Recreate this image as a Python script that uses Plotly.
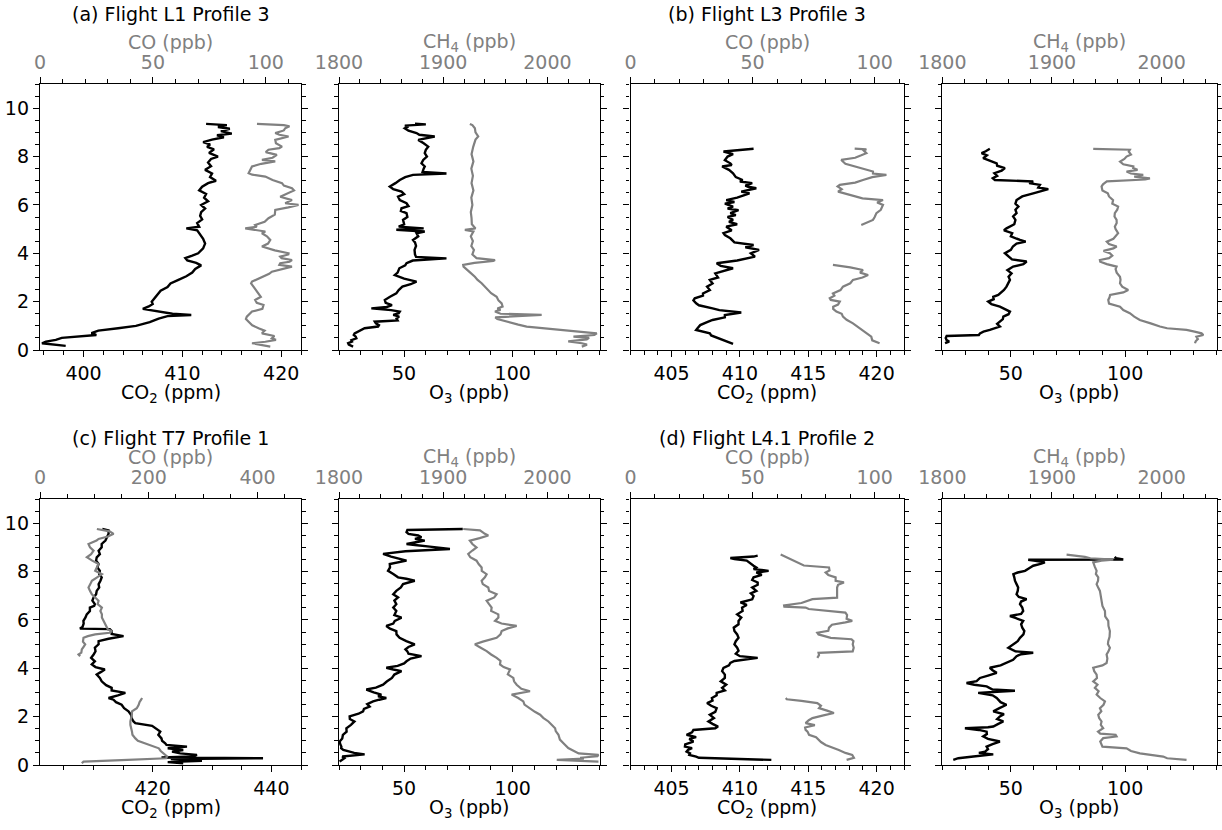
import plotly.graph_objects as go

FONT = "DejaVu Sans"
GRAY = "#808080"
FS = 19

# ---------------- data: (altitude [km], value) readings ----------------
# (a) Flight L1 Profile 3
a_co2 = [(0.17, 398.2), (0.22, 397.0), (0.28, 395.8), (0.35, 396.2), (0.42, 397.2), (0.5, 397.8), (0.55, 399.0),
         (0.62, 401.3), (0.7, 400.8), (0.8, 401.5), (0.9, 403.5), (1.0, 405.3), (1.15, 406.7), (1.3, 407.6),
         (1.4, 408.5), (1.45, 410.9), (1.5, 409.0), (1.6, 407.5), (1.7, 406.0), (1.8, 406.6), (1.9, 407.0),
         (2.0, 406.9), (2.15, 407.2), (2.3, 407.5), (2.45, 407.8), (2.6, 408.5), (2.75, 408.8), (2.9, 409.6),
         (3.05, 410.4), (3.2, 411.0), (3.35, 411.3), (3.5, 411.9), (3.6, 411.4), (3.7, 410.5), (3.8, 410.3),
         (3.9, 411.0), (4.0, 411.6), (4.2, 412.1), (4.4, 412.3), (4.6, 412.1), (4.8, 411.8), (4.95, 411.5),
         (5.03, 410.4), (5.1, 411.7), (5.25, 411.5), (5.4, 412.0), (5.55, 411.8), (5.7, 411.9), (5.85, 412.3),
         (6.0, 411.9), (6.15, 412.6), (6.3, 412.2), (6.45, 412.4), (6.6, 411.7), (6.75, 412.0), (6.9, 412.6),
         (7.0, 413.4), (7.15, 412.8), (7.3, 413.0), (7.45, 412.3), (7.6, 412.9), (7.75, 412.6), (7.9, 412.9),
         (8.0, 413.6), (8.15, 412.7), (8.3, 413.2), (8.4, 412.5), (8.5, 412.8), (8.6, 412.1), (8.7, 413.0),
         (8.8, 414.2), (8.88, 413.5), (8.95, 415.0), (9.05, 413.9), (9.15, 414.8), (9.22, 413.6), (9.3, 414.5),
         (9.35, 412.4)]
a_co = [(0.14, 102.0), (0.22, 97.5), (0.28, 93.9), (0.34, 99.8), (0.42, 104.5), (0.48, 102.7), (0.58, 103.8),
        (0.69, 98.3), (0.8, 99.5), (0.9, 96.8), (1.02, 94.0), (1.17, 92.4), (1.28, 91.2), (1.38, 91.6),
        (1.5, 92.8), (1.59, 93.9), (1.7, 98.5), (1.86, 99.0), (1.95, 96.0), (2.07, 95.3), (2.2, 97.8),
        (2.34, 96.8), (2.5, 95.5), (2.62, 94.6), (2.75, 93.5), (2.83, 93.9), (2.95, 97.0), (3.03, 98.3),
        (3.15, 101.5), (3.24, 102.7), (3.35, 108.0), (3.45, 111.6), (3.52, 106.0), (3.59, 106.4), (3.65, 110.5),
        (3.72, 111.6), (3.8, 107.0), (3.86, 106.4), (3.95, 110.0), (4.0, 110.1), (4.12, 104.0), (4.28, 98.3),
        (4.4, 101.0), (4.55, 102.0), (4.7, 100.5), (4.83, 98.3), (4.9, 99.8), (5.03, 90.9), (5.1, 96.0),
        (5.17, 95.3), (5.3, 99.5), (5.45, 101.2), (5.6, 104.0), (5.79, 104.2), (5.9, 110.0), (6.0, 114.5),
        (6.07, 108.6), (6.2, 111.6), (6.34, 106.4), (6.48, 110.1), (6.6, 112.5), (6.69, 111.6), (6.8, 108.0),
        (6.9, 107.2), (7.03, 103.0), (7.17, 99.8), (7.25, 94.0), (7.31, 92.4), (7.45, 93.0), (7.59, 93.9),
        (7.7, 98.0), (7.8, 104.2), (7.86, 98.3), (7.95, 103.0), (8.07, 104.9), (8.18, 100.0), (8.28, 101.2),
        (8.35, 106.0), (8.41, 107.2), (8.55, 104.5), (8.69, 104.2), (8.83, 110.1), (8.9, 106.0), (8.97, 104.2),
        (9.08, 108.0), (9.17, 108.6), (9.25, 110.5), (9.3, 108.0), (9.35, 96.1)]
a_o3 = [(0.14, 26.5), (0.22, 24.5), (0.28, 24.2), (0.35, 26.0), (0.41, 25.7), (0.48, 28.0), (0.55, 27.7),
        (0.62, 26.8), (0.69, 27.2), (0.8, 30.0), (0.9, 31.8), (0.97, 38.0), (1.03, 38.4), (1.1, 37.0),
        (1.17, 36.5), (1.22, 47.0), (1.3, 46.5), (1.38, 47.7), (1.45, 45.0), (1.52, 47.5), (1.59, 48.0),
        (1.65, 44.0), (1.72, 34.9), (1.78, 42.0), (1.86, 44.4), (1.95, 41.5), (2.07, 41.1), (2.2, 43.5),
        (2.34, 46.4), (2.48, 47.5), (2.62, 49.2), (2.72, 53.0), (2.83, 55.7), (2.95, 50.0), (3.1, 45.7),
        (3.2, 47.0), (3.38, 47.8), (3.5, 50.5), (3.59, 51.1), (3.7, 54.0), (3.79, 69.5), (3.85, 55.5),
        (3.95, 55.0), (4.14, 54.8), (4.3, 55.5), (4.45, 55.0), (4.55, 54.1), (4.7, 56.5), (4.83, 55.7),
        (4.9, 59.5), (4.97, 46.4), (5.03, 59.0), (5.1, 47.5), (5.2, 50.0), (5.38, 49.5), (5.5, 51.5),
        (5.66, 51.1), (5.75, 48.5), (5.86, 48.8), (5.95, 52.0), (6.07, 51.1), (6.2, 48.0), (6.34, 47.2),
        (6.45, 50.0), (6.55, 48.8), (6.65, 45.0), (6.76, 43.4), (6.9, 46.0), (7.03, 48.0), (7.15, 50.5),
        (7.24, 54.1), (7.3, 69.5), (7.36, 58.5), (7.5, 59.0), (7.59, 59.5), (7.72, 58.0), (7.86, 58.8),
        (8.0, 60.5), (8.14, 59.5), (8.28, 60.0), (8.41, 61.1), (8.55, 59.0), (8.69, 56.5), (8.83, 64.1),
        (8.9, 57.0), (8.97, 55.7), (9.07, 52.0), (9.17, 50.3), (9.25, 52.0), (9.28, 50.3), (9.33, 60.0),
        (9.36, 55.0)]
a_ch4 = [(0.14, 2033.0), (0.22, 2038.0), (0.28, 2033.0), (0.36, 2020.0), (0.44, 2037.8), (0.5, 2040.0),
         (0.55, 2025.0), (0.62, 2045.0), (0.69, 2047.4), (0.76, 2030.0), (0.83, 2012.2), (0.9, 1995.0),
         (0.97, 1980.1), (1.05, 1972.0), (1.17, 1960.9), (1.28, 1952.0), (1.35, 1950.0), (1.42, 1985.0),
         (1.45, 1994.5), (1.5, 1955.0), (1.59, 1949.7), (1.66, 1955.0), (1.72, 1952.0), (1.8, 1957.0),
         (1.93, 1956.1), (2.05, 1953.0), (2.2, 1951.3), (2.35, 1946.0), (2.48, 1943.3), (2.6, 1941.0),
         (2.76, 1936.9), (2.9, 1933.0), (3.03, 1930.4), (3.2, 1926.0), (3.35, 1922.0), (3.45, 1919.5),
         (3.52, 1919.2), (3.6, 1930.0), (3.68, 1948.0), (3.72, 1949.7), (3.8, 1932.0), (3.95, 1928.0),
         (4.14, 1929.5), (4.3, 1927.0), (4.5, 1928.5), (4.7, 1926.5), (4.9, 1929.0), (4.97, 1920.8),
         (5.03, 1931.0), (5.2, 1927.5), (5.45, 1927.2), (5.7, 1926.5), (6.0, 1928.0), (6.3, 1927.0),
         (6.6, 1929.0), (6.9, 1927.2), (7.2, 1928.5), (7.5, 1927.0), (7.8, 1929.0), (8.1, 1927.2),
         (8.4, 1928.8), (8.7, 1931.0), (8.83, 1933.6), (9.0, 1931.0), (9.17, 1930.4), (9.3, 1928.0),
         (9.35, 1925.6)]

# (b) Flight L3 Profile 3
b_co2 = [(0.25, 409.5), (0.35, 409.0), (0.48, 408.5), (0.6, 407.9), (0.69, 407.8), (0.83, 406.8), (0.9, 406.9),
         (1.03, 407.1), (1.15, 407.6), (1.24, 408.0), (1.35, 408.9), (1.45, 408.9), (1.55, 410.1), (1.59, 409.5),
         (1.65, 408.5), (1.72, 408.0), (1.85, 407.0), (1.93, 406.8), (2.05, 406.6), (2.14, 406.7), (2.25, 407.3),
         (2.34, 407.3), (2.48, 407.8), (2.62, 407.6), (2.75, 408.0), (2.9, 407.8), (3.0, 408.4), (3.17, 408.2),
         (3.3, 409.0), (3.38, 409.5), (3.48, 408.6), (3.59, 408.3), (3.7, 409.8), (3.86, 411.1), (4.0, 410.8),
         (4.14, 411.4), (4.25, 410.4), (4.34, 411.0), (4.45, 409.6), (4.62, 409.3), (4.75, 408.9), (4.83, 408.8),
         (4.95, 409.4), (5.1, 409.0), (5.2, 409.8), (5.3, 409.2), (5.38, 409.5), (5.5, 409.1), (5.58, 409.7),
         (5.66, 409.3), (5.78, 409.9), (5.85, 409.1), (5.93, 409.5), (6.05, 408.9), (6.12, 409.6), (6.2, 409.0),
         (6.3, 409.8), (6.4, 410.3), (6.48, 410.7), (6.55, 410.1), (6.6, 410.5), (6.69, 411.2), (6.75, 410.6),
         (6.8, 410.4), (6.9, 410.9), (6.97, 410.0), (7.03, 410.2), (7.15, 409.7), (7.31, 409.5), (7.45, 409.2),
         (7.59, 408.7), (7.65, 409.4), (7.72, 409.3), (7.85, 408.9), (8.0, 409.1), (8.1, 409.5), (8.21, 408.8),
         (8.32, 411.0)]
b_co_upper = [(5.17, 94.5), (5.28, 97.0), (5.38, 99.3), (5.5, 100.0), (5.66, 100.7), (5.8, 102.5), (6.0, 103.4),
              (6.1, 101.0), (6.2, 103.4), (6.27, 95.0), (6.34, 92.5), (6.45, 88.0), (6.55, 85.0), (6.65, 86.5),
              (6.76, 84.8), (6.83, 85.7), (6.92, 92.0), (7.03, 95.2), (7.15, 99.0), (7.24, 104.8), (7.3, 99.3),
              (7.38, 99.3), (7.48, 96.0), (7.59, 92.5), (7.7, 88.0), (7.86, 86.3), (7.95, 92.0), (8.05, 94.5),
              (8.14, 96.6), (8.25, 95.5), (8.3, 96.6), (8.33, 91.8)]
b_co_lower = [(0.28, 102.0), (0.4, 99.0), (0.55, 98.6), (0.7, 96.5), (0.83, 95.2), (0.95, 93.0), (1.1, 91.1),
              (1.25, 88.5), (1.38, 87.0), (1.5, 86.5), (1.59, 84.3), (1.7, 83.0), (1.79, 83.0), (1.88, 85.0),
              (2.0, 85.7), (2.07, 82.0), (2.14, 81.6), (2.25, 83.5), (2.34, 82.9), (2.48, 86.0), (2.62, 87.0),
              (2.76, 90.0), (2.9, 91.1), (3.0, 95.0), (3.1, 97.3), (3.2, 94.0), (3.31, 95.2), (3.42, 90.0),
              (3.52, 82.9)]
b_o3 = [(0.28, 21.2), (0.35, 23.0), (0.41, 21.9), (0.5, 21.5), (0.58, 21.9), (0.62, 36.0), (0.69, 36.5),
        (0.76, 38.0), (0.83, 40.8), (0.9, 43.5), (0.97, 45.2), (1.08, 44.0), (1.17, 45.2), (1.28, 46.5),
        (1.38, 46.7), (1.48, 49.0), (1.59, 49.6), (1.7, 47.0), (1.79, 45.2), (1.9, 41.5), (2.0, 40.1),
        (2.1, 42.5), (2.2, 42.3), (2.28, 44.5), (2.34, 45.2), (2.48, 47.0), (2.62, 48.1), (2.76, 49.0),
        (2.9, 49.6), (3.03, 49.0), (3.17, 50.3), (3.3, 48.5), (3.45, 51.0), (3.55, 55.5), (3.66, 56.9),
        (3.75, 50.5), (3.88, 49.0), (4.0, 47.4), (4.14, 50.0), (4.28, 50.9), (4.4, 52.5), (4.48, 56.5),
        (4.55, 54.0), (4.7, 50.0), (4.83, 50.6), (4.95, 47.0), (5.03, 48.1), (5.2, 51.5), (5.38, 52.0),
        (5.52, 51.0), (5.66, 52.5), (5.8, 52.0), (5.93, 53.3), (6.05, 52.0), (6.2, 52.5), (6.35, 55.0),
        (6.48, 59.8), (6.58, 64.0), (6.65, 66.4), (6.72, 62.0), (6.83, 62.7), (6.9, 58.0), (6.97, 59.8),
        (7.03, 43.0), (7.1, 42.1), (7.2, 44.0), (7.31, 42.8), (7.42, 46.0), (7.52, 47.4), (7.62, 44.0),
        (7.72, 43.8), (7.82, 41.0), (7.93, 37.9), (8.05, 39.5), (8.14, 37.2), (8.22, 39.0), (8.32, 40.8)]
b_ch4 = [(0.28, 2030.4), (0.36, 2031.0), (0.45, 2033.0), (0.55, 2031.7), (0.62, 2038.0), (0.69, 2036.4),
         (0.76, 2030.0), (0.83, 2022.7), (0.9, 2005.0), (0.97, 1998.4), (1.1, 1990.0), (1.24, 1980.1),
         (1.38, 1975.0), (1.52, 1971.0), (1.65, 1965.0), (1.79, 1962.0), (1.92, 1952.0), (2.07, 1951.3),
         (2.18, 1952.5), (2.28, 1953.0), (2.38, 1965.0), (2.48, 1969.5), (2.62, 1964.0), (2.76, 1962.0),
         (2.9, 1962.5), (3.03, 1962.0), (3.2, 1959.0), (3.35, 1958.0), (3.45, 1958.9), (3.55, 1950.0),
         (3.65, 1944.0), (3.72, 1943.7), (3.8, 1952.0), (3.9, 1955.0), (4.0, 1952.8), (4.1, 1947.0),
         (4.2, 1956.0), (4.28, 1959.0), (4.38, 1952.0), (4.48, 1950.0), (4.6, 1956.0), (4.83, 1960.3),
         (5.0, 1958.0), (5.1, 1957.3), (5.25, 1959.0), (5.38, 1958.9), (5.52, 1957.0), (5.66, 1957.3),
         (5.8, 1959.5), (5.93, 1960.3), (6.05, 1955.0), (6.2, 1955.7), (6.35, 1952.0), (6.48, 1950.9),
         (6.6, 1946.0), (6.76, 1945.2), (6.85, 1946.5), (6.97, 1950.0), (7.05, 1985.0), (7.1, 1989.3),
         (7.17, 1975.0), (7.24, 1983.2), (7.3, 1972.0), (7.38, 1968.0), (7.45, 1978.0), (7.52, 1974.0),
         (7.59, 1974.2), (7.68, 1965.0), (7.79, 1962.1), (7.9, 1966.0), (8.0, 1968.0), (8.08, 1972.0),
         (8.2, 1970.0), (8.28, 1971.0), (8.32, 1937.6)]

# (c) Flight T7 Profile 1
c_co2 = [(0.07, 425.15), (0.12, 422.53), (0.17, 428.3), (0.21, 425.47), (0.25, 423.05), (0.28, 438.6),
         (0.31, 421.48), (0.35, 426.72), (0.42, 427.46), (0.48, 424.63), (0.55, 423.26), (0.62, 425.15),
         (0.69, 422.53), (0.76, 425.78), (0.83, 422.32), (0.9, 422.11), (1.0, 421.58), (1.1, 421.48),
         (1.25, 420.95), (1.38, 421.27), (1.52, 420.43), (1.62, 419.9), (1.73, 417.07), (1.8, 416.76),
         (1.94, 416.44), (2.08, 416.34), (2.22, 415.92), (2.35, 415.18), (2.49, 414.76), (2.6, 413.81),
         (2.7, 413.39), (2.77, 412.56), (2.88, 414.13), (2.98, 415.39), (3.08, 413.08), (3.19, 413.08),
         (3.3, 412.14), (3.46, 411.4), (3.6, 411.09), (3.74, 410.56), (3.85, 411.3), (3.95, 411.93),
         (4.05, 410.36), (4.16, 409.73), (4.29, 410.25), (4.43, 409.62), (4.57, 410.04), (4.7, 410.36),
         (4.85, 410.25), (4.99, 410.88), (5.12, 410.88), (5.22, 412.56), (5.33, 415.08), (5.42, 413.08),
         (5.54, 413.08), (5.62, 412.77), (5.64, 407.73), (5.7, 408.15), (5.85, 408.36), (5.96, 408.32),
         (6.1, 408.67), (6.23, 408.88), (6.37, 409.41), (6.51, 409.41), (6.58, 410.14), (6.65, 410.25),
         (6.8, 409.83), (6.93, 410.04), (7.06, 410.46), (7.2, 410.56), (7.34, 410.98), (7.48, 410.88),
         (7.62, 411.19), (7.76, 411.4), (7.9, 410.98), (8.03, 411.09), (8.17, 410.67), (8.31, 410.88),
         (8.45, 410.46), (8.59, 410.56), (8.72, 411.09), (8.86, 410.88), (9.0, 411.4), (9.14, 411.4),
         (9.28, 412.03), (9.42, 412.24), (9.56, 412.56), (9.7, 412.56), (9.76, 411.51)]
c_co_upper = [(4.5, 73.8), (4.57, 70.8), (4.65, 76.0), (4.78, 76.9), (4.9, 80.5), (4.99, 83.1), (5.1, 79.0),
              (5.26, 80.0), (5.33, 88.0), (5.4, 101.5), (5.47, 128.0), (5.54, 132.3), (5.6, 125.0), (5.68, 123.1),
              (5.82, 119.0), (5.96, 116.9), (6.1, 113.8), (6.23, 113.8), (6.37, 111.0), (6.51, 113.8),
              (6.65, 106.0), (6.79, 107.7), (6.93, 101.0), (7.06, 95.4), (7.2, 92.0), (7.34, 89.2), (7.48, 92.5),
              (7.62, 95.4), (7.76, 105.0), (7.89, 113.8), (8.03, 101.5), (8.17, 104.0), (8.31, 107.7), (8.45, 96.0),
              (8.59, 86.2), (8.72, 94.0), (8.86, 98.5), (9.0, 92.0), (9.14, 89.2), (9.28, 104.0), (9.35, 107.7),
              (9.45, 125.0), (9.56, 135.4), (9.66, 128.0), (9.76, 104.6)]
c_co_lower = [(0.07, 76.9), (0.14, 80.0), (0.2, 150.0), (0.24, 200.0), (0.28, 232.0), (0.35, 233.8), (0.42, 230.0),
              (0.48, 227.7), (0.58, 222.0), (0.69, 218.5), (0.8, 205.0), (0.9, 193.8), (1.0, 180.0), (1.1, 175.4),
              (1.25, 170.0), (1.38, 169.2), (1.52, 167.5), (1.66, 166.2), (1.8, 166.2), (1.95, 168.0),
              (2.08, 169.0), (2.22, 169.2), (2.35, 178.0), (2.49, 181.5), (2.6, 183.0), (2.7, 186.0), (2.77, 187.7)]
c_o3 = [(0.14, 20.3), (0.21, 21.5), (0.28, 22.5), (0.35, 21.5), (0.44, 31.8), (0.5, 27.0), (0.55, 24.9),
        (0.62, 22.0), (0.69, 21.0), (0.76, 21.1), (0.86, 20.6), (0.97, 20.3), (1.1, 21.5), (1.25, 21.8),
        (1.38, 23.5), (1.52, 23.4), (1.66, 25.5), (1.8, 27.1), (1.9, 25.0), (2.01, 24.9), (2.12, 29.0),
        (2.22, 31.1), (2.32, 31.5), (2.42, 34.1), (2.52, 33.0), (2.63, 35.7), (2.7, 38.5), (2.77, 41.8),
        (2.84, 38.0), (2.91, 39.5), (3.0, 36.0), (3.12, 32.6), (3.2, 37.0), (3.32, 40.3), (3.45, 42.0),
        (3.6, 44.4), (3.74, 45.5), (3.88, 48.8), (3.95, 45.0), (4.02, 41.8), (4.1, 47.0), (4.2, 50.0),
        (4.29, 51.1), (4.4, 53.0), (4.5, 58.0), (4.6, 52.0), (4.7, 51.5), (4.78, 50.6), (4.88, 52.0),
        (4.99, 54.9), (5.12, 51.0), (5.26, 47.9), (5.4, 46.5), (5.54, 46.4), (5.64, 43.5), (5.75, 41.8),
        (5.85, 45.0), (5.96, 45.7), (6.09, 48.8), (6.2, 45.5), (6.37, 46.4), (6.51, 45.0), (6.65, 46.4),
        (6.8, 45.5), (6.93, 47.2), (7.06, 45.0), (7.2, 46.4), (7.34, 48.5), (7.48, 49.5), (7.62, 54.9),
        (7.7, 51.0), (7.76, 47.2), (7.9, 45.0), (8.03, 42.6), (8.17, 43.5), (8.31, 43.4), (8.45, 51.1),
        (8.55, 46.0), (8.62, 44.0), (8.73, 40.3), (8.8, 48.0), (8.84, 50.6), (8.93, 71.1), (9.0, 62.0),
        (9.03, 61.8), (9.1, 55.0), (9.14, 51.1), (9.22, 56.0), (9.28, 59.5), (9.35, 55.0), (9.42, 58.0),
        (9.49, 56.5), (9.56, 52.0), (9.63, 51.1), (9.72, 51.5), (9.76, 77.0)]
c_ch4 = [(0.14, 2049.0), (0.18, 2012.0), (0.21, 2009.0), (0.26, 2035.0), (0.3, 2031.4), (0.36, 2048.0),
         (0.42, 2049.0), (0.48, 2030.0), (0.55, 2026.6), (0.7, 2020.0), (0.9, 2015.4), (1.05, 2012.0),
         (1.25, 2010.6), (1.4, 2008.0), (1.52, 2007.4), (1.66, 2004.0), (1.8, 2001.0), (1.95, 1996.0),
         (2.08, 1993.0), (2.2, 1988.0), (2.35, 1983.3), (2.5, 1978.0), (2.63, 1976.9), (2.77, 1972.0),
         (2.91, 1965.7), (3.05, 1983.3), (3.15, 1975.0), (3.32, 1970.5), (3.46, 1968.0), (3.6, 1967.3),
         (3.75, 1962.0), (3.95, 1964.1), (4.05, 1958.0), (4.16, 1954.5), (4.3, 1955.0), (4.43, 1951.3),
         (4.57, 1946.0), (4.71, 1941.7), (4.85, 1936.0), (4.99, 1930.4), (5.1, 1938.0), (5.26, 1951.3),
         (5.4, 1955.0), (5.54, 1956.1), (5.65, 1962.0), (5.75, 1970.5), (5.85, 1956.0), (5.96, 1949.7),
         (6.1, 1953.0), (6.23, 1952.9), (6.37, 1946.0), (6.51, 1946.5), (6.65, 1944.0), (6.79, 1941.7),
         (6.93, 1949.0), (7.06, 1951.3), (7.2, 1944.0), (7.34, 1943.3), (7.48, 1938.0), (7.62, 1936.9),
         (7.76, 1940.0), (7.89, 1941.7), (8.03, 1937.0), (8.17, 1936.9), (8.31, 1934.0), (8.45, 1932.0),
         (8.59, 1926.0), (8.73, 1924.0), (8.87, 1928.0), (9.0, 1932.0), (9.14, 1928.0), (9.28, 1925.6),
         (9.38, 1935.0), (9.49, 1943.3), (9.56, 1940.0), (9.63, 1936.9), (9.7, 1935.3), (9.76, 1919.2)]

# (d) Flight L4.1 Profile 2
d_co2 = [(0.21, 412.3), (0.3, 407.0), (0.35, 406.8), (0.42, 406.3), (0.48, 406.35), (0.55, 406.1), (0.62, 406.2),
         (0.7, 406.5), (0.76, 405.98), (0.85, 406.0), (0.97, 406.6), (1.08, 406.3), (1.15, 406.8), (1.25, 406.1),
         (1.35, 406.5), (1.45, 406.6), (1.52, 408.2), (1.59, 408.4), (1.7, 408.0), (1.8, 407.7), (1.94, 408.1),
         (2.08, 407.8), (2.2, 408.2), (2.35, 408.3), (2.45, 407.9), (2.56, 407.6), (2.66, 408.0), (2.77, 407.95),
         (2.88, 408.3), (2.98, 408.3), (3.08, 408.9), (3.19, 408.7), (3.32, 409.0), (3.46, 408.6), (3.6, 408.9),
         (3.74, 408.9), (3.88, 408.7), (4.02, 408.8), (4.12, 409.2), (4.22, 409.3), (4.3, 409.6), (4.43, 411.3),
         (4.5, 410.0), (4.6, 409.7), (4.72, 409.9), (4.85, 409.8), (4.99, 409.6), (5.12, 409.7), (5.26, 409.9),
         (5.4, 409.8), (5.54, 409.6), (5.68, 409.55), (5.82, 409.9), (5.96, 409.9), (6.1, 410.1), (6.23, 409.8),
         (6.37, 410.2), (6.51, 410.16), (6.62, 410.5), (6.72, 410.04), (6.85, 410.9), (6.99, 411.0),
         (7.1, 410.8), (7.2, 411.2), (7.34, 410.9), (7.45, 411.3), (7.55, 411.3), (7.65, 410.9), (7.76, 411.0),
         (7.86, 411.6), (7.96, 411.2), (8.03, 412.1), (8.1, 411.0), (8.17, 411.2), (8.24, 411.0), (8.35, 410.7),
         (8.45, 410.5), (8.52, 409.6), (8.56, 409.3), (8.62, 411.0), (8.66, 411.3)]
d_co_upper = [(4.43, 76.5), (4.55, 77.2), (4.64, 77.0), (4.7, 91.0), (4.85, 91.4), (4.99, 91.0), (5.12, 91.3),
              (5.2, 90.5), (5.26, 82.0), (5.4, 77.0), (5.47, 76.5), (5.55, 81.0), (5.68, 81.3), (5.8, 82.5),
              (5.9, 88.0), (5.96, 90.8), (6.05, 88.5), (6.2, 88.7), (6.3, 88.0), (6.45, 73.0), (6.51, 71.7),
              (6.55, 63.0), (6.6, 62.9), (6.7, 70.0), (6.86, 74.5), (6.92, 84.6), (7.06, 84.6), (7.2, 84.5),
              (7.34, 84.6), (7.45, 85.0), (7.55, 87.4), (7.62, 84.0), (7.76, 84.0), (7.86, 81.0), (7.96, 79.9),
              (8.05, 81.5), (8.17, 81.3), (8.25, 71.0), (8.35, 69.0), (8.45, 66.5), (8.55, 64.9), (8.65, 63.0),
              (8.7, 61.5)]
d_co_lower = [(0.21, 88.5), (0.3, 91.5), (0.42, 90.8), (0.5, 88.0), (0.62, 85.3), (0.72, 83.0), (0.83, 79.9),
              (0.95, 78.0), (1.04, 77.2), (1.15, 76.0), (1.25, 73.1), (1.38, 72.5), (1.45, 71.7), (1.55, 71.5),
              (1.65, 75.5), (1.73, 71.7), (1.85, 73.0), (1.94, 74.5), (2.05, 79.0), (2.15, 83.3), (2.25, 80.5),
              (2.35, 77.2), (2.45, 78.0), (2.56, 76.5), (2.65, 70.0), (2.72, 64.0), (2.77, 63.6)]
d_o3 = [(0.21, 24.8), (0.28, 27.0), (0.35, 33.6), (0.44, 42.3), (0.5, 36.0), (0.55, 38.7), (0.65, 40.0),
        (0.76, 39.4), (0.86, 42.0), (0.97, 45.2), (1.08, 40.0), (1.18, 37.9), (1.28, 39.5), (1.38, 39.4),
        (1.45, 36.0), (1.52, 29.9), (1.56, 40.0), (1.59, 42.3), (1.7, 44.5), (1.8, 46.7), (1.9, 44.0),
        (2.01, 45.2), (2.1, 47.0), (2.22, 42.3), (2.35, 45.0), (2.49, 48.1), (2.6, 45.5), (2.77, 43.8),
        (2.88, 42.0), (2.98, 35.7), (3.03, 44.0), (3.07, 51.8), (3.12, 42.0), (3.25, 39.4), (3.32, 34.0),
        (3.39, 30.6), (3.47, 35.0), (3.6, 36.5), (3.7, 40.0), (3.81, 43.8), (3.92, 42.0), (4.02, 40.8),
        (4.12, 45.5), (4.22, 48.1), (4.35, 51.0), (4.5, 52.5), (4.58, 54.5), (4.64, 59.8), (4.7, 52.0),
        (4.85, 48.9), (4.99, 51.1), (5.12, 53.0), (5.26, 54.0), (5.4, 55.5), (5.54, 55.9), (5.68, 55.0),
        (5.82, 54.5), (5.96, 55.4), (6.08, 52.0), (6.16, 49.6), (6.25, 54.5), (6.37, 55.4), (6.51, 55.0),
        (6.65, 54.0), (6.76, 54.5), (6.86, 56.9), (6.95, 53.5), (7.06, 52.5), (7.2, 53.0), (7.34, 53.2),
        (7.48, 52.5), (7.62, 51.8), (7.76, 51.5), (7.89, 51.1), (7.96, 53.0), (8.03, 56.2), (8.14, 58.0),
        (8.24, 59.8), (8.32, 63.0), (8.38, 64.9), (8.45, 60.0), (8.49, 57.6), (8.5, 99.2), (8.55, 96.0),
        (8.61, 95.5)]
d_ch4 = [(0.21, 2022.7), (0.28, 2005.0), (0.35, 2001.4), (0.42, 1990.0), (0.48, 1980.2), (0.58, 1972.0),
         (0.69, 1968.0), (0.76, 1946.0), (0.83, 1945.2), (0.97, 1944.0), (1.11, 1946.7), (1.18, 1958.9),
         (1.25, 1958.0), (1.3, 1944.0), (1.38, 1942.0), (1.52, 1946.7), (1.66, 1944.5), (1.8, 1945.2),
         (1.94, 1943.0), (2.08, 1942.2), (2.22, 1945.0), (2.35, 1943.7), (2.49, 1947.0), (2.63, 1948.3),
         (2.77, 1944.0), (2.91, 1940.7), (3.05, 1942.5), (3.19, 1939.1), (3.32, 1941.5), (3.46, 1937.6),
         (3.6, 1941.0), (3.74, 1940.7), (3.88, 1938.5), (4.02, 1937.6), (4.12, 1946.0), (4.22, 1949.8),
         (4.4, 1950.5), (4.57, 1949.8), (4.7, 1951.5), (4.85, 1952.8), (5.0, 1951.0), (5.12, 1951.3),
         (5.3, 1952.5), (5.54, 1952.8), (5.75, 1951.5), (5.96, 1951.3), (6.15, 1948.5), (6.37, 1948.3),
         (6.58, 1946.0), (6.79, 1945.2), (7.0, 1944.0), (7.2, 1943.7), (7.35, 1942.0), (7.48, 1940.7),
         (7.62, 1942.0), (7.76, 1942.2), (7.9, 1940.0), (8.03, 1940.7), (8.2, 1939.0), (8.38, 1937.6),
         (8.45, 1945.0), (8.49, 1955.9), (8.55, 1935.0), (8.61, 1930.0), (8.7, 1913.3)]

titles = ["(a) Flight L1 Profile 3", "(b) Flight L3 Profile 3",
          "(c) Flight T7 Profile 1", "(d) Flight L4.1 Profile 2"]
alt_ticks = [0, 2, 4, 6, 8, 10]

# ---------------- layout geometry (pixels in a 1222x830 page) ----------------
W, H = 1222, 830
col_px = [(40, 301), (339, 599.5), (630.5, 904), (942.3, 1216.5)]
row_px = [(84, 350), (499, 765)]
title_off = [70, 61]        # panel title centre above the frame, per row
bottom_lab_off = [43, 43]   # bottom axis title centre below the frame, per row
top_lab_off = 42            # top axis title centre above the frame


def px_x(p):
    return p / W


def px_y(p):
    return 1 - p / H


def xy(*segments):
    xs, ys = [], []
    for i, seg in enumerate(segments):
        if i:
            xs.append(None)
            ys.append(None)
        for alt, v in seg:
            xs.append(v)
            ys.append(alt)
    return xs, ys


co2_t = "CO<sub>2</sub> (ppm)"
o3_t = "O<sub>3</sub> (ppb)"
co_t = "CO (ppb)"
ch4_t = "CH<sub>4</sub> (ppb)"
O3AX = dict(range=[20, 140], dtick=50, tick0=0, minor=10)
CH4AX = dict(range=[1800, 2050], dtick=100, tick0=1800, minor=20)
panels = [
    (0, 0, [a_co2], [a_co], dict(range=[395.6, 422.0], dtick=10, tick0=400, minor=2),
     dict(range=[0, 115.6], dtick=50, tick0=0, minor=10), co2_t, co_t),
    (0, 1, [a_o3], [a_ch4], O3AX, CH4AX, o3_t, ch4_t),
    (0, 2, [b_co2], [b_co_upper, b_co_lower], dict(range=[402, 422], dtick=5, tick0=400, minor=1),
     dict(range=[0, 112], dtick=50, tick0=0, minor=10), co2_t, co_t),
    (0, 3, [b_o3], [b_ch4], O3AX, CH4AX, o3_t, ch4_t),
    (1, 0, [c_co2], [c_co_upper, c_co_lower], dict(range=[401, 445], dtick=20, tick0=400, minor=5),
     dict(range=[0, 480], dtick=200, tick0=0, minor=50), co2_t, co_t),
    (1, 1, [c_o3], [c_ch4], O3AX, CH4AX, o3_t, ch4_t),
    (1, 2, [d_co2], [d_co_upper, d_co_lower], dict(range=[402, 422], dtick=5, tick0=400, minor=1),
     dict(range=[0, 112], dtick=50, tick0=0, minor=10), co2_t, co_t),
    (1, 3, [d_o3], [d_ch4], O3AX, CH4AX, o3_t, ch4_t),
]

fig = go.Figure()
layout = {}
annotations = []

for i, (r, c, black, gray, bax, tax, btitle, ttitle) in enumerate(panels):
    xb, xt, ya = 2 * i + 1, 2 * i + 2, i + 1
    xs, ys = xy(*black)
    fig.add_trace(go.Scatter(x=xs, y=ys, mode="lines", line=dict(color="black", width=2.4),
                             xaxis=f"x{xb}", yaxis=f"y{ya}", showlegend=False, hoverinfo="skip"))
    xs, ys = xy(*gray)
    fig.add_trace(go.Scatter(x=xs, y=ys, mode="lines", line=dict(color=GRAY, width=2.2),
                             xaxis=f"x{xt}", yaxis=f"y{ya}", showlegend=False, hoverinfo="skip"))

    x0, x1 = col_px[c]
    y0, y1 = row_px[r]
    dom_x = [px_x(x0), px_x(x1)]
    dom_y = [px_y(y1), px_y(y0)]
    common = dict(showline=True, linecolor="black", linewidth=1.3, ticks="outside", ticklen=6,
                  tickwidth=1.2, tickcolor="black", showgrid=False, zeroline=False, automargin=False)
    mnr = dict(ticklen=3.5, ticks="outside", tickcolor="black", tickwidth=1, showgrid=False)
    layout[f"xaxis{xb}"] = dict(domain=dom_x, anchor=f"y{ya}", side="bottom", range=bax["range"],
                                dtick=bax["dtick"], tick0=bax["tick0"],
                                minor=dict(dtick=bax["minor"], **mnr),
                                tickfont=dict(family=FONT, size=FS, color="black"), **common)
    layout[f"xaxis{xt}"] = dict(overlaying=f"x{xb}", anchor=f"y{ya}", side="top", range=tax["range"],
                                dtick=tax["dtick"], tick0=tax["tick0"],
                                minor=dict(dtick=tax["minor"], **mnr),
                                tickfont=dict(family=FONT, size=FS, color=GRAY), **common)
    layout[f"yaxis{ya}"] = dict(domain=dom_y, anchor=f"x{xb}", range=[0, 11], tickvals=alt_ticks,
                                minor=dict(dtick=0.5, **mnr),
                                mirror="ticks", showticklabels=(c == 0),
                                tickfont=dict(family=FONT, size=FS, color="black"), **common)

    cx = (x0 + x1) / 2
    annotations.append(dict(text=ttitle, x=px_x(cx), y=px_y(y0 - top_lab_off), xref="paper", yref="paper",
                            showarrow=False, xanchor="center", yanchor="middle",
                            font=dict(family=FONT, size=FS, color=GRAY)))
    annotations.append(dict(text=btitle, x=px_x(cx), y=px_y(y1 + bottom_lab_off[r]), xref="paper",
                            yref="paper", showarrow=False, xanchor="center", yanchor="middle",
                            font=dict(family=FONT, size=FS, color="black")))
    if c in (0, 2):
        annotations.append(dict(text=titles[r * 2 + c // 2], x=px_x(cx), y=px_y(y0 - title_off[r]),
                                xref="paper", yref="paper", showarrow=False, xanchor="center",
                                yanchor="middle", font=dict(family=FONT, size=FS, color="black")))

fig.update_layout(template="none", width=W, height=H, margin=dict(l=0, r=0, t=0, b=0, pad=0),
                  paper_bgcolor="white", plot_bgcolor="white", font=dict(family=FONT, size=FS),
                  annotations=annotations, showlegend=False, **layout)
fig.write_html("out.html")
